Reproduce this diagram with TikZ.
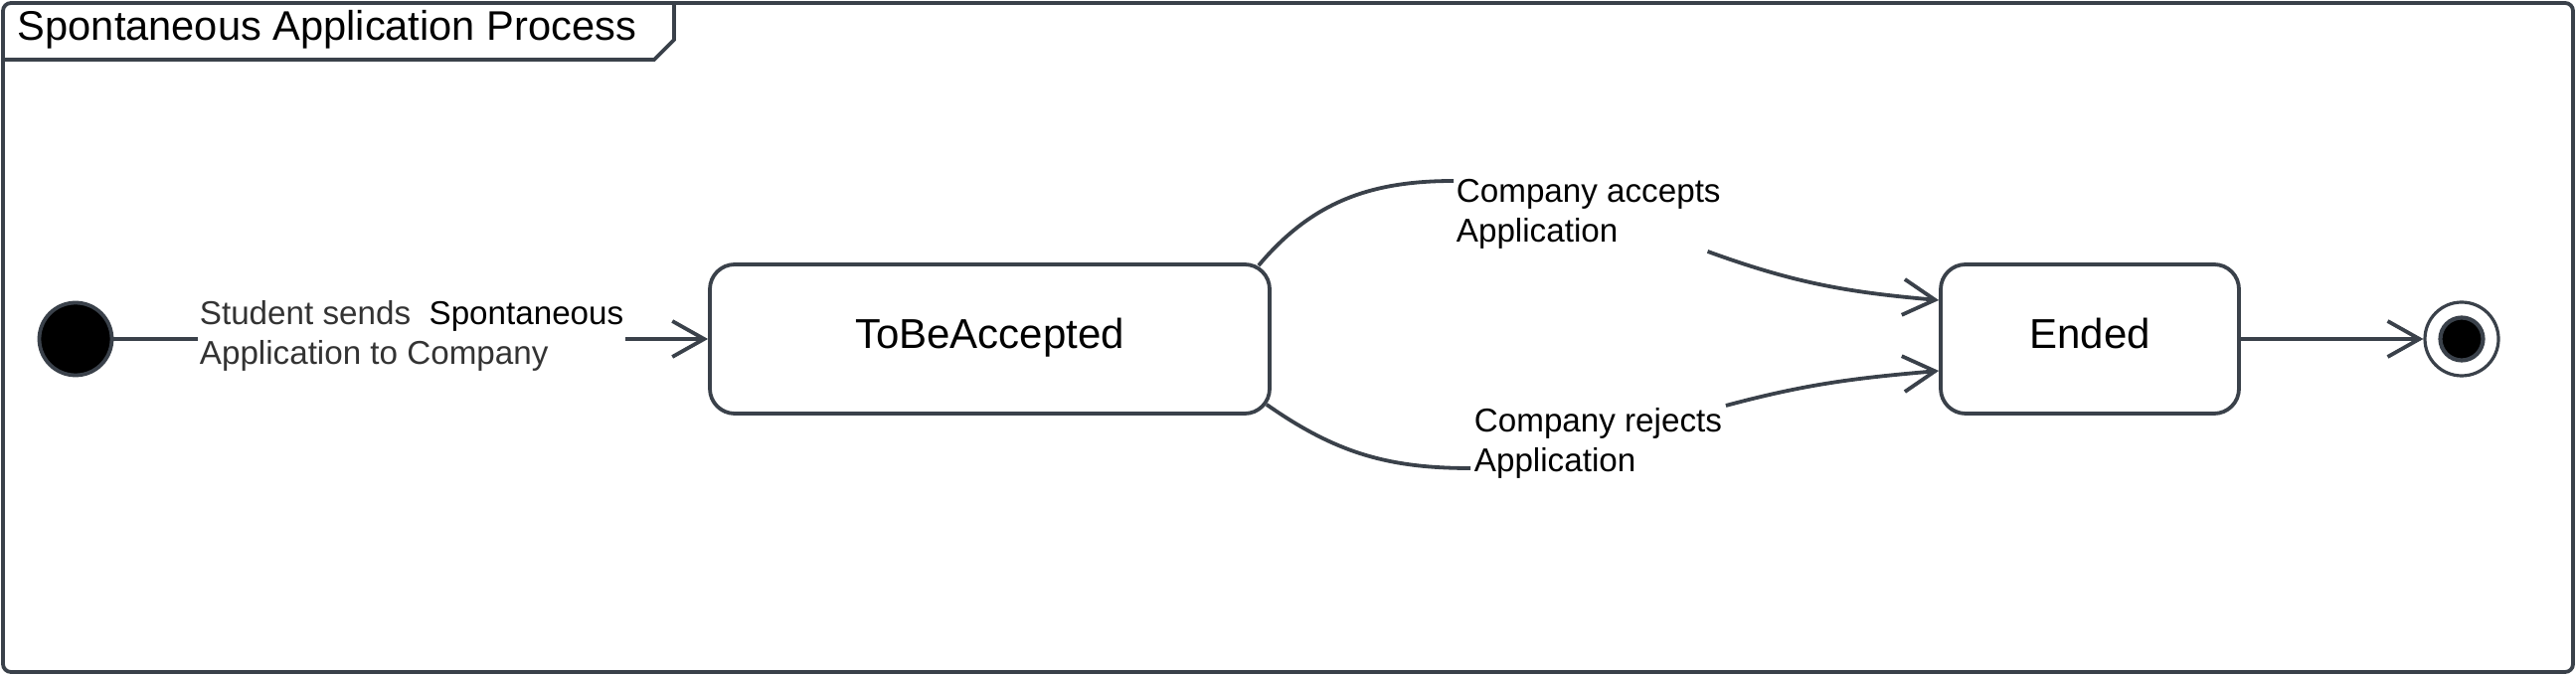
\documentclass[tikz,border=0pt]{standalone}
\usepackage{fontspec}
\setmainfont{Liberation Sans}
\usetikzlibrary{arrows.meta}
\definecolor{umlline}{HTML}{3A414A}
\definecolor{umltext}{HTML}{333333}
\begin{document}
\begin{tikzpicture}[x=0.5pt,y=0.5pt,line width=1.9pt,
  state/.style={draw=umlline,rounded corners=12.5pt,minimum height=75pt,inner sep=0pt,text height=15pt,text depth=5.8pt,font=\fontsize{21}{24}\selectfont},
  trans/.style={draw=umlline,-{Straight Barb[length=16pt,width=18pt]}},
  lbl/.style={align=left,inner sep=0pt,font=\fontsize{16.6}{20}\selectfont}]
\pgfmathsetmacro{\ky}{338}
\useasboundingbox (0,0) rectangle (2591,679);
\draw[umlline,rounded corners=4pt] (3,3) rectangle (2588,676);
\draw[umlline] (3,619) -- (658,619) -- (678,639) -- (678,676);
\node[anchor=base west,inner sep=0pt,font=\fontsize{20.8}{24}\selectfont] (title) at (16,638) {Spontaneous Application Process};
\node[circle,draw=umlline,fill=black,minimum size=36.5pt,inner sep=0pt] (init) at (76,\ky) {};
\node[state,minimum width=281.5pt] (tba) at (995.5,\ky) {ToBeAccepted};
\node[state,minimum width=150pt] (ended) at (2102,\ky) {Ended};
\node[circle,draw=umlline,line width=1.6pt,minimum size=37pt,inner sep=0pt] (final) at (2476,\ky) {};
\node[circle,draw=umlline,fill=black,line width=2.1pt,minimum size=21.5pt,inner sep=0pt] (finaldot) at (final) {};
\node[lbl,anchor=west] (send) at (199,341) {\textcolor{umltext}{Student sends}\ \ Spontaneous\\\textcolor{umltext}{Application to Company}};
\node[lbl,anchor=west] (accept) at (1463,464) {Company accepts\\Application};
\node[lbl,anchor=west] (reject) at (1481,233) {Company rejects\\Application};
\draw[umlline] (init.east) -- (init.east -| send.west);
\draw[trans] (send.east |- tba.west) -- (tba.west);
\draw[umlline] ([shift={(-13,-3)}]tba.north east) to[out=50,in=180] ([shift={(-1,33)}]accept.west);
\draw[trans] ([shift={(-15,-1)}]accept.south east) to[out=-20,in=175] ([yshift=19.5pt]ended.west);
\draw[umlline] ([shift={(-5,11)}]tba.south east) to[out=-35,in=180] ([shift={(-2,-25)}]reject.west);
\draw[trans] ([shift={(2,38)}]reject.east) to[out=15,in=185] ([yshift=-16pt]ended.west);
\draw[trans] (ended.east) -- (final.west);
\end{tikzpicture}
\end{document}
